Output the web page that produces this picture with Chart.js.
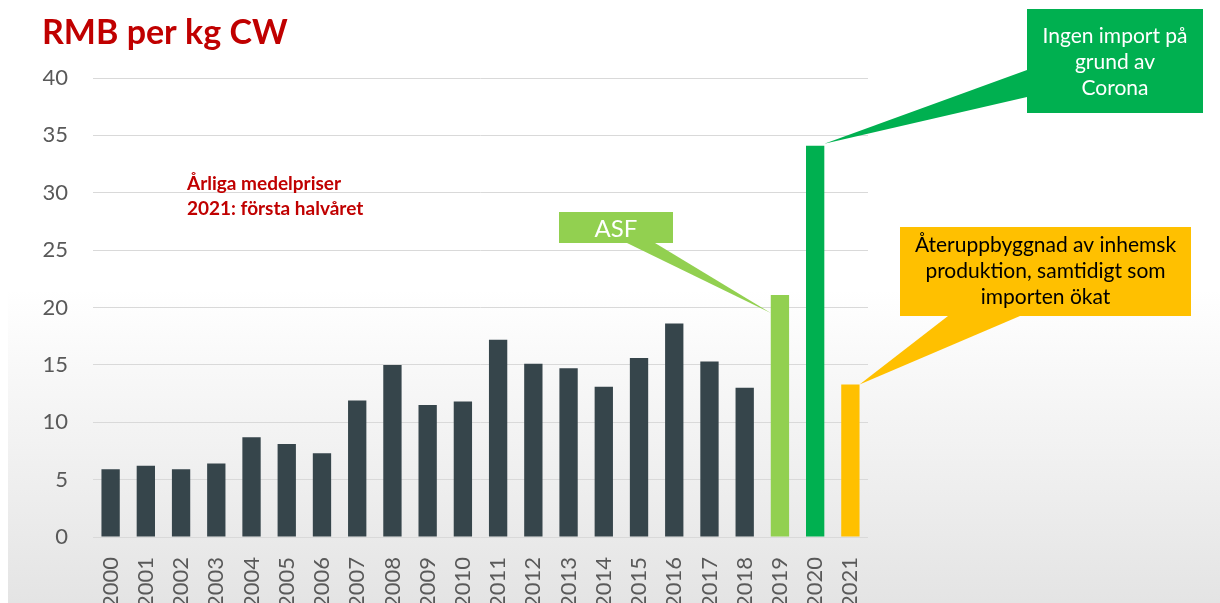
<!DOCTYPE html>
<html>
<head>
<meta charset="utf-8">
<script src="https://cdn.jsdelivr.net/npm/chart.js@4"></script>
<style>
html, body { margin: 0; padding: 0; background: #fff; }
</style>
</head>
<body>
<canvas id="myChart" width="1220" height="603"></canvas>
<script>
// data
var years = ['2000', '2001', '2002', '2003', '2004', '2005', '2006', '2007', '2008', '2009', '2010',
             '2011', '2012', '2013', '2014', '2015', '2016', '2017', '2018', '2019', '2020', '2021'];
var prices = [5.9, 6.2, 5.9, 6.4, 8.7, 8.1, 7.3, 11.9, 15.0, 11.5, 11.8,
              17.2, 15.1, 14.7, 13.1, 15.6, 18.6, 15.3, 13.0, 21.1, 34.1, 13.3];
var yMin = 0, yMax = 40, yStep = 5;

var dark = '#36454b';
var barColors = years.map(function (y) {
    if (y === '2019') return '#92d050';
    if (y === '2020') return '#00b050';
    if (y === '2021') return '#ffc000';
    return dark;
});

var FONT = 'Lato, "Noto Sans", sans-serif';

// callouts pointing at bars
var callouts = [
    { year: '2019', color: '#92d050', textColor: '#ffffff', size: 24, bold: false,
      box: [559, 212, 114, 31], base: [[627, 243], [655, 243]], tip: 'left', tipDy: 18,
      lines: ['ASF'], lineY: [237] },
    { year: '2020', color: '#00b050', textColor: '#ffffff', size: 21, bold: false,
      box: [1027, 9, 176, 104], base: [[1027, 70], [1027, 97]], tip: 'right', tipDy: -2,
      lines: ['Ingen import på', 'grund av', 'Corona'], lineY: [43, 69, 95] },
    { year: '2021', color: '#ffc000', textColor: '#000000', size: 21, bold: false,
      box: [900, 227, 291, 89], base: [[948, 316], [1020, 316]], tip: 'right', tipDy: 0,
      lines: ['Återuppbyggnad av inhemsk', 'produktion, samtidigt som', 'importen ökat'], lineY: [252, 278, 304] }
];

var decor = {
    id: 'decor',
    beforeDraw: function (chart) {
        var c = chart.ctx;
        c.save();
        var g = c.createLinearGradient(0, 290, 0, 603);
        g.addColorStop(0, '#ffffff');
        g.addColorStop(1, '#e4e4e4');
        c.fillStyle = '#ffffff';
        c.fillRect(0, 0, chart.width, chart.height);
        c.fillStyle = g;
        c.fillRect(8, 290, chart.width - 8, chart.height - 290);
        c.restore();
    },
    afterDraw: function (chart) {
        var c = chart.ctx;
        var meta = chart.getDatasetMeta(0);
        c.save();

        // title
        c.fillStyle = '#c00000';
        c.font = 'bold 34px ' + FONT;
        c.textAlign = 'left';
        c.textBaseline = 'alphabetic';
        c.fillText('RMB per kg CW', 42, 44);

        // note
        c.font = 'bold 19px ' + FONT;
        c.fillText('Årliga medelpriser', 187, 190);
        c.fillText('2021: första halvåret', 187, 215);

        callouts.forEach(function (co) {
            var bar = meta.data[years.indexOf(co.year)];
            var tx = co.tip === 'left' ? bar.x - bar.width / 2 : bar.x + bar.width / 2;
            var ty = bar.y + co.tipDy;
            c.fillStyle = co.color;
            c.beginPath();
            c.moveTo(co.base[0][0], co.base[0][1]);
            c.lineTo(tx, ty);
            c.lineTo(co.base[1][0], co.base[1][1]);
            c.closePath();
            c.fill();
            c.fillRect(co.box[0], co.box[1], co.box[2], co.box[3]);
            c.fillStyle = co.textColor;
            c.font = (co.bold ? 'bold ' : '') + co.size + 'px ' + FONT;
            c.textAlign = 'center';
            co.lines.forEach(function (t, i) {
                c.fillText(t, co.box[0] + co.box[2] / 2, co.lineY[i]);
            });
        });
        c.restore();
    }
};

var ctx = document.getElementById('myChart').getContext('2d');
var chart = new Chart(ctx, {
    type: 'bar',
    data: {
        labels: years,
        datasets: [{
            data: prices,
            backgroundColor: barColors,
            categoryPercentage: 1,
            barPercentage: 0.52
        }]
    },
    options: {
        responsive: false,
        animation: false,
        layout: { padding: { left: 0, right: 352, top: 78, bottom: 0 } },
        plugins: { legend: { display: false }, tooltip: { enabled: false } },
        scales: {
            x: {
                grid: { display: false },
                border: { display: false },
                ticks: { color: '#595959', font: { family: FONT, size: 22 },
                         minRotation: 90, maxRotation: 90, padding: 12 },
                afterFit: function (s) { s.height = 66; }
            },
            y: {
                min: yMin, max: yMax,
                grid: { color: '#d9d9d9', drawTicks: false },
                border: { display: false },
                ticks: { stepSize: yStep, color: '#595959', font: { family: FONT, size: 22 }, padding: 25 },
                afterFit: function (s) { s.width = 93; }
            }
        }
    },
    plugins: [decor]
});
</script>
</body>
</html>
